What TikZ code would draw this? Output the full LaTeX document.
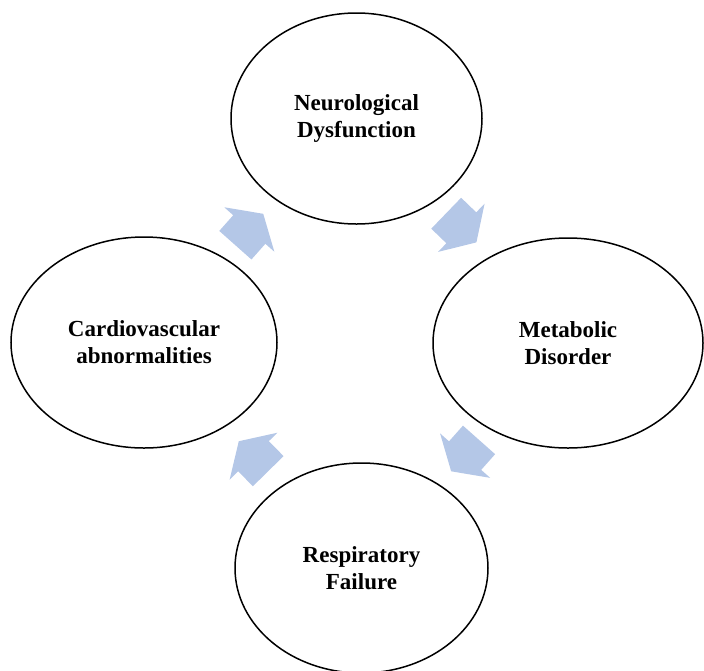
\documentclass[tikz,border=0pt]{standalone}
\usepackage{fontspec}
\setmainfont{Liberation Serif}
\usetikzlibrary{shapes.geometric}
\definecolor{arrowblue}{RGB}{180,199,231}
\tikzset{
  stage/.style={draw=black, line width=1.5pt, ellipse, inner sep=0pt, align=center,
    font=\fontsize{23}{27}\selectfont\bfseries},
  cycarrow/.pic={
    \fill[arrowblue] (-21,-21.5) -- (0,-21.5) -- (0,-33.5) -- (21,0) -- (0,33.5) -- (0,21.5) -- (-21,21.5) -- cycle;
  }
}
\begin{document}
\begin{tikzpicture}[x=1pt,y=-1pt]
\useasboundingbox (0,0) rectangle (704,670);
\node[stage, minimum width=251pt, minimum height=211pt] (neuro) at (356.5,118.5) {Neurological\\Dysfunction};
\node[stage, minimum width=270pt, minimum height=210pt] (meta) at (568,343) {Metabolic\\Disorder};
\node[stage, minimum width=253pt, minimum height=210pt] (resp) at (361.5,568) {Respiratory\\Failure};
\node[stage, minimum width=266pt, minimum height=211pt] (cardio) at (144,342.5) {Cardiovascular\\abnormalities};
\pic[rotate=48.4] (a1) at (249.3,229.5) {cycarrow};
\pic[rotate=-44] (a2) at (461.3,227.8) {cycarrow};
\pic[rotate=-131.6] (a3) at (465.1,455.6) {cycarrow};
\pic[rotate=134.5] (a4) at (253.5,456.2) {cycarrow};
\end{tikzpicture}
\end{document}
